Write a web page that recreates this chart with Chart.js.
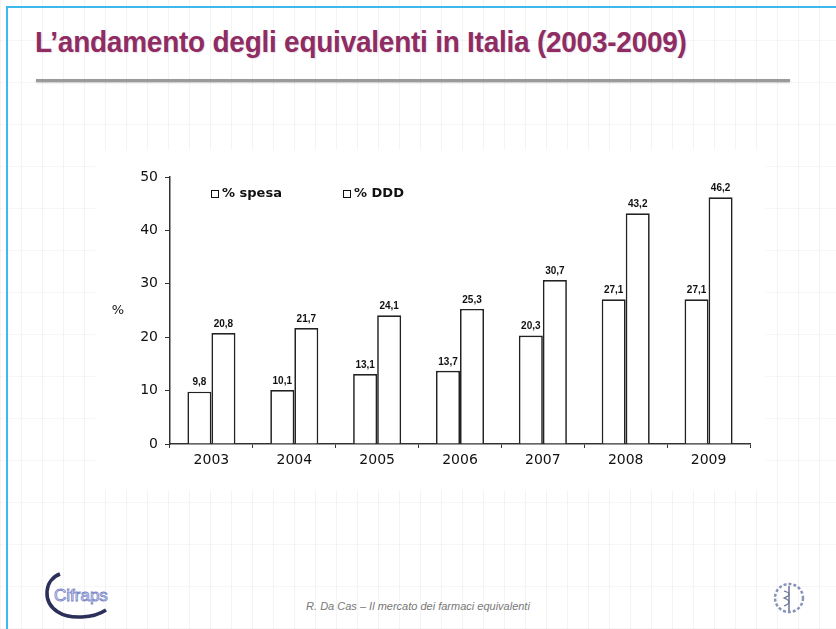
<!DOCTYPE html>
<html>
<head>
<meta charset="utf-8">
<script src="https://cdn.jsdelivr.net/npm/chart.js@4.4.1/dist/chart.umd.min.js"></script>
<style>
  html, body { margin: 0; padding: 0; background: #fff; }
  #slide {
    position: relative; width: 836px; height: 629px; overflow: hidden;
    background-color: #fff;
    background-image:
      repeating-linear-gradient(90deg, rgba(0,0,0,0.045) 0 1px, transparent 1px 21px),
      repeating-linear-gradient(0deg, rgba(0,0,0,0.03) 0 1px, transparent 1px 42px);
  }
  #frame {
    position: absolute; left: 6px; top: 6px; width: 840px; height: 640px;
    border-left: 2px solid #3fb8ee; border-top: 2px solid #3fb8ee;
  }
  #title {
    position: absolute; left: 35px; top: 26px; margin: 0;
    font: bold 28px "Liberation Sans", Arial, sans-serif; color: #8f2c63;
    letter-spacing: -0.25px; white-space: nowrap;
    transform: scaleY(1.05); transform-origin: left top;
    text-shadow: 1px 1px 1px rgba(120,60,100,0.15);
  }
  #rule {
    position: absolute; left: 36px; top: 79px; width: 754px; height: 3px;
    background: #9a9a9a; box-shadow: 0 1px 2px rgba(0,0,0,0.2);
  }
  #chartBox { position: absolute; left: 95px; top: 150px; width: 670px; height: 340px; background: #fff; }
  #footer {
    position: absolute; left: 0; width: 836px; top: 600px; text-align: center;
    font: italic 11px "Liberation Sans", Arial, sans-serif; color: #777;
  }
  #logoL { position: absolute; left: 40px; top: 568px; }
  #logoR { position: absolute; left: 772px; top: 578px; }
</style>
</head>
<body>
<div id="slide">
  <div id="frame"></div>
  <h1 id="title">L’andamento degli equivalenti in Italia (2003-2009)</h1>
  <div id="rule"></div>
  <div id="chartBox"><canvas id="myChart"></canvas></div>
  <svg id="logoL" width="80" height="55" viewBox="0 0 80 55">
    <path d="M20 6 C4 12 2 34 18 44 C30 52 54 50 66 42" fill="none" stroke="#2b2f5a" stroke-width="3.5"/>
    <text x="14" y="33" font-family="Liberation Sans, Arial" font-size="17" fill="#fff" stroke="#7a86c8" stroke-width="0.9">Cifraps</text>
  </svg>
  <svg id="logoR" width="34" height="40" viewBox="0 0 34 40">
    <circle cx="17" cy="20" r="14" fill="none" stroke="#8a93b8" stroke-width="2.5" stroke-dasharray="3 2"/>
    <line x1="17" y1="8" x2="17" y2="33" stroke="#6a7399" stroke-width="1.5"/>
    <path d="M12 13 Q22 16 12 20 Q22 24 12 28" fill="none" stroke="#6a7399" stroke-width="1.2"/>
  </svg>
  <div id="footer">R. Da Cas – Il mercato dei farmaci equivalenti</div>
</div>

<script>
// anni e percentuali
var anni = ["2003", "2004", "2005", "2006", "2007", "2008", "2009"];
var spesa = [9.8, 10.1, 13.1, 13.7, 20.3, 27.1, 27.1];
var ddd = [20.8, 21.7, 24.1, 25.3, 30.7, 43.2, 46.2];
var legendLabels = ["% spesa", "% DDD"];

var fmt = function (v) { return v.toFixed(1).replace(".", ","); };

// etichette sopra le barre, legenda interna e "%" dell'asse
var extras = {
  id: "extras",
  afterDatasetsDraw: function (chart) {
    var ctx = chart.ctx;
    ctx.save();
    ctx.fillStyle = "#111";
    ctx.font = "bold 10px 'Liberation Sans Narrow', 'Liberation Sans', Arial";
    ctx.textAlign = "center";
    ctx.textBaseline = "bottom";
    chart.data.datasets.forEach(function (ds, i) {
      chart.getDatasetMeta(i).data.forEach(function (bar, j) {
        ctx.fillText(fmt(ds.data[j]), bar.x, bar.y - 4);
      });
    });

    var area = chart.chartArea;
    ctx.font = "bold 13px 'DejaVu Sans', Verdana, sans-serif";
    ctx.textAlign = "left";
    ctx.textBaseline = "middle";
    var lx = [area.left + 41, area.left + 173];
    legendLabels.forEach(function (t, i) {
      ctx.lineWidth = 1;
      ctx.strokeStyle = "#111";
      ctx.fillStyle = "#fff";
      ctx.fillRect(lx[i], area.top + 13, 7, 7);
      ctx.strokeRect(lx[i] + 0.5, area.top + 13.5, 7, 7);
      ctx.fillStyle = "#111";
      ctx.fillText(t, lx[i] + 11, area.top + 17);
    });

    ctx.font = "13px 'DejaVu Sans', Verdana, sans-serif";
    ctx.textAlign = "center";
    ctx.fillText("%", area.left - 52, chart.scales.y.getPixelForValue(25));
    ctx.restore();
  }
};

var ctx = document.getElementById("myChart").getContext("2d");
var myChart = new Chart(ctx, {
  type: "bar",
  data: {
    labels: anni,
    datasets: [
      {
        label: legendLabels[0],
        data: spesa,
        backgroundColor: "#fff",
        borderColor: "#222",
        borderWidth: 1.7,
        categoryPercentage: 0.58,
        barPercentage: 1.0,
      },
      {
        label: legendLabels[1],
        data: ddd,
        backgroundColor: "#fff",
        borderColor: "#222",
        borderWidth: 1.7,
        categoryPercentage: 0.58,
        barPercentage: 1.0,
      },
    ],
  },
  options: {
    responsive: true,
    maintainAspectRatio: false,
    animation: false,
    layout: { padding: { left: 15, right: 15, top: 27, bottom: 10 } },
    plugins: {
      legend: { display: false },
      tooltip: { enabled: false },
    },
    scales: {
      x: {
        offset: true,
        border: { color: "#333", width: 1.5 },
        grid: { display: true, drawOnChartArea: false, drawTicks: true, tickLength: 4, color: "#333", offset: true },
        ticks: { color: "#111", font: { size: 14, family: "'DejaVu Sans', Verdana, sans-serif" }, padding: 4 },
        afterFit: function (s) { s.height = 36; },
      },
      y: {
        min: 0,
        max: 50,
        border: { color: "#333", width: 1.5 },
        grid: { display: true, drawOnChartArea: false, drawTicks: true, tickLength: 5, color: "#333" },
        ticks: { stepSize: 10, color: "#111", font: { size: 14, family: "'DejaVu Sans', Verdana, sans-serif" }, padding: 7 },
        afterFit: function (s) { s.width = 60; },
      },
    },
  },
  plugins: [extras],
});
</script>
</body>
</html>
